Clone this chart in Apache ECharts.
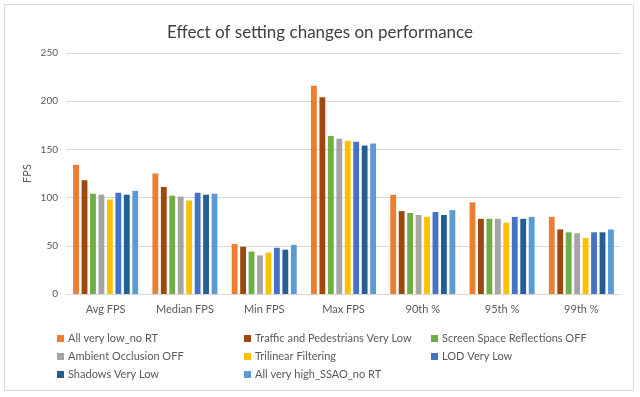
<!DOCTYPE html>
<html><head><meta charset="utf-8">
<script src="https://cdn.jsdelivr.net/npm/echarts@6/dist/echarts.min.js"></script>
<style>html,body{margin:0;padding:0;background:#fff}#c{width:640px;height:397px}</style>
</head><body><div id="c"></div>
<script>
const categories = ['Avg FPS','Median FPS','Min FPS','Max FPS','90th %','95th %','99th %'];
const seriesNames = ['All very low_no RT','Traffic and Pedestrians Very Low','Screen Space Reflections OFF','Ambient Occlusion OFF','Trilinear Filtering','LOD Very Low','Shadows Very Low','All very high_SSAO_no RT'];
const allVeryLow      = [134, 125, 52, 216, 103, 95, 80];
const trafficLow      = [118, 111, 49, 204, 86, 78, 67];
const ssrOff          = [104, 102, 44, 164, 84, 78, 64];
const aoOff           = [103, 101, 40, 161, 82, 78, 63];
const trilinear       = [98, 97, 43, 159, 80, 74, 58];
const lodLow          = [105, 105, 48, 158, 85, 80, 64];
const shadowsLow      = [103, 103, 46, 154, 82, 78, 64];
const allVeryHigh     = [107, 104, 51, 156, 87, 80, 67];
const yTicks = [0, 50, 100, 150, 200, 250];
const colors = ['#ED7D31','#9E480E','#70AD47','#A5A5A5','#FFC000','#4472C4','#255E91','#5B9BD5'];
const values = [allVeryLow, trafficLow, ssrOff, aoOff, trilinear, lodLow, shadowsLow, allVeryHigh];

const font = 'Lato, "Open Sans", sans-serif';
const chart = echarts.init(document.getElementById('c'), null, {renderer:'canvas'});
chart.setOption({
  animation: false,
  backgroundColor: '#fff',
  color: colors,
  title: {
    text: 'Effect of setting changes on performance',
    left: 'center', top: 19,
    textStyle: {fontFamily: font, fontSize: 17, fontWeight: 'normal', color: '#404040'}
  },
  graphic: [{
    type: 'rect', shape: {x: 4.5, y: 4.5, width: 629, height: 386},
    style: {fill: 'none', stroke: '#d9d9d9', lineWidth: 1}, silent: true
  }],
  grid: {left: 66, right: 19, top: 53, bottom: 103},
  legend: {
    left: 52, top: 328, width: 580, orient: 'horizontal',
    itemWidth: 7, itemHeight: 7, itemGap: 7, icon: 'rect',
    textStyle: {fontFamily: font, fontSize: 11, color: '#595959', width: 169, lineHeight: 8, padding: [0,0,0,-1]},
    data: seriesNames
  },
  xAxis: {
    type: 'category', data: categories,
    axisLine: {lineStyle: {color: '#d9d9d9'}},
    axisTick: {show: false},
    axisLabel: {fontFamily: font, fontSize: 11, color: '#595959', margin: 10}
  },
  yAxis: {
    type: 'value', min: yTicks[0], max: yTicks[yTicks.length-1], interval: 50,
    name: 'FPS', nameLocation: 'middle', nameGap: 33, nameRotate: 90, nameMoveOverlap: false,
    nameTextStyle: {fontFamily: font, fontSize: 11, color: '#595959'},
    axisLine: {show: false}, axisTick: {show: false},
    axisLabel: {fontFamily: font, fontSize: 10, color: '#595959', margin: 8},
    splitLine: {lineStyle: {color: '#d9d9d9'}}
  },
  series: seriesNames.map((n, i) => ({
    name: n, type: 'bar', data: values[i],
    barGap: '45%', barCategoryGap: '18%'
  }))
});
</script></body></html>
